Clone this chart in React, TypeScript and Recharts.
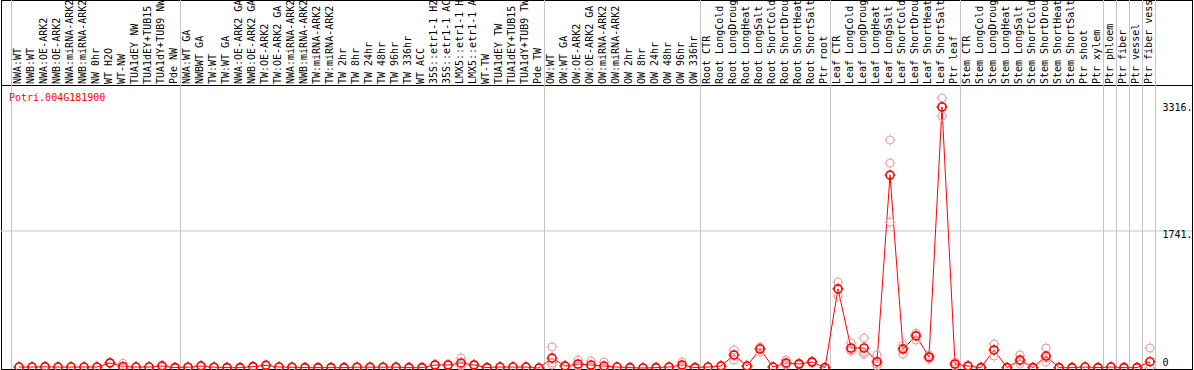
import { LineChart, Line, XAxis, YAxis, ReferenceLine } from "recharts";

// sample labels, left to right
const CATEGORIES = [
  "NWA:WT", "NWB:WT", "NWA:OE-ARK2", "NWB:OE-ARK2", "NWA:miRNA-ARK2", "NWB:miRNA-ARK2",
  "NW 0hr", "WT H2O", "WT-NW", "TUA1dEY NW", "TUA1dEY+TUB15 NW", "TUA1dY+TUB9 NW", "Pde NW",
  "NWA:WT GA", "NWBWT GA", "TW:WT", "TW:WT GA", "NWA:OE-ARK2 GA", "NWB:OE-ARK2 GA",
  "TW:OE-ARK2", "TW:OE-ARK2 GA", "NWA:miRNA-ARK2", "NWB:miRNA-ARK2", "TW:miRNA-ARK2",
  "TW:miRNA-ARK2", "TW 2hr", "TW 8hr", "TW 24hr", "TW 48hr", "TW 96hr", "TW 336hr",
  "WT ACC", "35S::etr1-1 H2O", "35S::etr1-1 ACC", "LMX5::etr1-1 H2O", "LMX5::etr1-1 ACC",
  "WT-TW", "TUA1dEY TW", "TUA1dEY+TUB15 TW", "TUA1dY+TUB9 TW", "Pde TW",
  "OW:WT", "OW:WT GA", "OW:OE-ARK2", "OW:OE-ARK2 GA", "OW:miRNA-ARK2", "OW:miRNA-ARK2",
  "OW 2hr", "OW 8hr", "OW 24hr", "OW 48hr", "OW 96hr", "OW 336hr",
  "Root CTR", "Root LongCold", "Root LongDrought", "Root LongHeat", "Root LongSalt",
  "Root ShortCold", "Root ShortDrought", "Root ShortHeat", "Root ShortSalt", "Ptr root",
  "Leaf CTR", "Leaf LongCold", "Leaf LongDrought", "Leaf LongHeat", "Leaf LongSalt",
  "Leaf ShortCold", "Leaf ShortDrought", "Leaf ShortHeat", "Leaf ShortSalt", "Ptr leaf",
  "Stem CTR", "Stem LongCold", "Stem LongDrought", "Stem LongHeat", "Stem LongSalt",
  "Stem ShortCold", "Stem ShortDrought", "Stem ShortHeat", "Stem ShortSalt", "Ptr shoot",
  "Ptr xylem", "Ptr phloem", "Ptr fiber", "Ptr vessel", "Ptr fiber vessel",
];

// mean expression per sample
const MEAN = [
  12, 12, 15, 12, 12, 12, 12, 64, 20, 12, 12, 25, 5,
  10, 25, 10, 5, 5, 17, 34, 12, 10, 5, 5, 5, 5, 10, 10, 10, 10, 5, 5, 38, 38, 64, 38, 5, 12, 12, 12, 0,
  125, 25, 51, 38, 25, 12, 5, 0, 5, 12, 38, 5,
  12, 25, 165, 25, 241, 12, 64, 51, 76, 5,
  1005, 254, 254, 80, 2451, 241, 407, 140, 3316, 51,
  25, 5, 229, 5, 102, 5, 152, 5, 5, 12, 5,
  12, 5, 5, 80,
];

// replicates
const REP_A = [
  15, 14, 22, 15, 14, 15, 16, 72, 60, 15, 14, 35, 8,
  13, 32, 13, 7, 7, 22, 42, 15, 13, 7, 7, 7, 7, 13, 13, 13, 13, 7, 7, 45, 45, 127, 45, 7, 15, 15, 15, 1,
  267, 32, 102, 89, 76, 15, 7, 1, 7, 15, 76, 7,
  15, 32, 229, 32, 267, 15, 102, 64, 89, 7,
  1092, 318, 381, 165, 2896, 292, 445, 165, 3429, 76,
  32, 7, 305, 7, 165, 7, 254, 7, 7, 15, 7,
  15, 7, 7, 254,
];
const REP_B = [
  12, 12, 14, 12, 12, 12, 11, 64, 0, 12, 12, 25, 5,
  10, 25, 10, 5, 5, 17, 34, 12, 10, 5, 5, 5, 5, 10, 10, 10, 10, 5, 5, 38, 38, 40, 38, 5, 12, 12, 12, 0,
  64, 25, 30, 15, 0, 12, 5, 0, 5, 12, 25, 5,
  12, 25, 165, 25, 254, 12, 51, 51, 76, 5,
  1010, 229, 203, 51, 2604, 254, 419, 140, 3319, 51,
  25, 5, 229, 5, 89, 5, 127, 5, 5, 12, 5,
  12, 5, 5, 0,
];
const REP_C = [
  9, 10, 9, 9, 10, 9, 9, 56, 0, 9, 10, 15, 2,
  7, 18, 7, 3, 3, 12, 26, 9, 7, 3, 3, 3, 3, 7, 7, 7, 7, 3, 3, 31, 31, 25, 31, 3, 9, 9, 9, 0,
  38, 18, 20, 10, 0, 9, 3, 0, 3, 9, 13, 3,
  9, 18, 102, 18, 203, 9, 38, 38, 64, 3,
  914, 216, 178, 25, 1854, 178, 356, 114, 3200, 25,
  18, 3, 152, 3, 51, 3, 76, 3, 3, 9, 3,
  9, 3, 3, 0,
];

// group separators sit between samples
const GROUP_BREAKS = [-0.5, 12.5, 40.5, 52.5, 62.5, 72.5, 83.5, 84.5, 85.5, 86.5, 87.5];
const VALUE_TICKS = [0, 1741, 3316];
const GENE = "Potri.004G181900";

const RED = "#ff0000";
const PINK = "#ec9c9c";
const GRID = "#c4c4c4";
const MONO = "'DejaVu Sans Mono', monospace";

const rows = CATEGORIES.map((name, i) => ({
  idx: i,
  name,
  mean: MEAN[i],
  a: REP_A[i],
  b: REP_B[i],
  c: REP_C[i],
}));

function Marker({ cx, cy, color, width }: any) {
  if (cx == null || cy == null) return null;
  const r = 4;
  return (
    <g>
      <circle cx={cx} cy={cy} r={r} fill="none" stroke={color} strokeWidth={width} />
      <line x1={cx} x2={cx} y1={cy - r - 1.5} y2={cy - r} stroke={color} />
      <line x1={cx} x2={cx} y1={cy + r} y2={cy + r + 1.5} stroke={color} />
      <line x1={cx - r - 1.5} x2={cx - r} y1={cy} y2={cy} stroke={color} />
      <line x1={cx + r} x2={cx + r + 1.5} y1={cy} y2={cy} stroke={color} />
    </g>
  );
}

const repDot = (p: any) => <Marker key={`r-${p.dataKey}-${p.index}`} cx={p.cx} cy={p.cy} color={PINK} width={1} />;
const meanDot = (p: any) => <Marker key={`m-${p.index}`} cx={p.cx} cy={p.cy} color={RED} width={1.6} />;

function SampleTick({ x, payload }: any) {
  return (
    <text
      transform={`translate(${x + 1.5},84) rotate(-90)`}
      x={0}
      y={0}
      fontSize={10}
      fontFamily={MONO}
      fill="#000"
      textAnchor="start"
    >
      {CATEGORIES[payload.value]}
    </text>
  );
}

function ValueTick({ x, y, payload }: any) {
  const v = payload.value;
  const dy = v === 0 ? -2 : v === 3316 ? 4 : 7;
  return (
    <text x={x} y={y + dy} fontSize={10} fontFamily={MONO} fill="#000" textAnchor="start">
      {v === 0 ? "0" : `${v}.`}
    </text>
  );
}

export default function App() {
  return (
    <div style={{ position: "absolute", left: 0, top: 0, width: 1194, height: 370, background: "#fff" }}>
      {/* frame */}
      <div style={{ position: "absolute", left: 1, top: 0, width: 1192, height: 370, boxSizing: "border-box", border: "1px solid #000" }} />
      <div style={{ position: "absolute", left: 1, top: 85, width: 1192, height: 1, background: "#000" }} />
      <div style={{ position: "absolute", left: 0, top: 0 }}>
        <LineChart width={1194} height={370} data={rows} margin={{ top: 0, right: 0, bottom: 2, left: 12.5 }}>
          <XAxis
            dataKey="idx"
            type="number"
            orientation="top"
            domain={[-0.5, 87.5]}
            ticks={CATEGORIES.map((_, i) => i)}
            interval={0}
            height={86}
            axisLine={false}
            tickLine={false}
            tick={<SampleTick />}
          />
          <YAxis
            orientation="right"
            domain={[0, 3583]}
            ticks={VALUE_TICKS}
            interval={0}
            width={37.5}
            axisLine={false}
            tickLine={false}
            tickSize={0}
            tickMargin={6}
            tick={<ValueTick />}
          />
          {GROUP_BREAKS.map((b) => (
            <ReferenceLine
              key={b}
              x={b}
              stroke={GRID}
              shape={(p: any) => <line x1={p.x1 - 1} x2={p.x2 - 1} y1={0} y2={369} stroke={GRID} strokeWidth={1} />}
            />
          ))}
          <ReferenceLine
            y={1741}
            stroke={GRID}
            shape={(p: any) => <line x1={1} x2={1192} y1={p.y1} y2={p.y2} stroke={GRID} strokeWidth={1} />}
          />
          <Line dataKey="a" stroke="none" dot={repDot} activeDot={false} isAnimationActive={false} />
          <Line dataKey="b" stroke="none" dot={repDot} activeDot={false} isAnimationActive={false} />
          <Line dataKey="c" stroke="none" dot={repDot} activeDot={false} isAnimationActive={false} />
          <Line dataKey="mean" type="linear" stroke={RED} strokeWidth={1} dot={meanDot} activeDot={false} isAnimationActive={false} />
          <text x={9} y={101} fontSize={10} fontFamily={MONO} fill={RED}>
            {GENE}
          </text>
        </LineChart>
      </div>
    </div>
  );
}
